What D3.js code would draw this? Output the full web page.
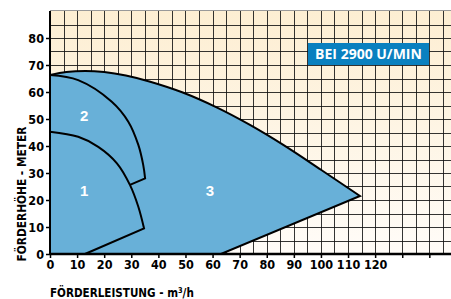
<!DOCTYPE html>
<html>
<head>
<meta charset="utf-8">
<script src="https://cdn.jsdelivr.net/npm/d3@7"></script>
<style>
  body { margin: 0; background: #fff; }
  text { font-family: "Liberation Sans Narrow", "DejaVu Sans Condensed", sans-serif; font-weight: bold; }
</style>
</head>
<body>
<svg width="451" height="299"></svg>
<script>
let width = 451;
let height = 299;

// pump curves (flow m3/h, head m)
let curve3 = [[0, 66.3], [6, 67.4], [13, 67.8], [20, 67.4], [28, 66.1], [37, 63.8], [49, 59.8],
  [61.5, 54.3], [73.8, 47.8], [86.1, 40.4], [100, 31.2], [114.4, 21.5]];
let tail3 = [[114.4, 21.5], [63.1, 0], [0, 0]];
let curve2 = [[0, 66.3], [10.4, 64.4], [22.8, 56.4], [28.9, 49], [32.6, 40.4], [34.4, 33], [35.1, 28]];
let tail2 = [[35.1, 28], [29.5, 25.6]];
let curve1 = [[0, 45.3], [10.4, 43.4], [17.8, 39.7], [24.7, 33.6], [29.5, 25.6], [32.6, 17.5], [34.7, 9.5]];
let tail1 = [[34.7, 9.5], [12.9, 0]];

let xTicks = [0, 10, 20, 30, 40, 50, 60, 70, 80, 90, 100, 110, 120, 130, 140];
let xLabels = ['0', '10', '20', '30', '40', '50', '60', '70', '80', '90', '100', '110', '120', '', ''];
let yTicks = [0, 10, 20, 30, 40, 50, 60, 70, 80];
let zoneLabels = [['1', 12.6, 23.5], ['2', 12.6, 51.3], ['3', 59, 23.5]];

let xScale = d3.scaleLinear().domain([0, 148]).range([50, 451]);
let yScale = d3.scaleLinear().domain([0, 90]).range([254, 11]);

let svg = d3.select('svg');

// cream background
let grad = svg.append('defs').append('linearGradient')
  .attr('id', 'bg').attr('x1', 0).attr('x2', 0).attr('y1', 0).attr('y2', 1);
grad.append('stop').attr('offset', '0%').attr('stop-color', '#fdeed2');
grad.append('stop').attr('offset', '100%').attr('stop-color', '#fffcf8');

svg.append('rect')
  .attr('x', xScale(0)).attr('y', yScale(90))
  .attr('width', xScale(148) - xScale(0)).attr('height', yScale(0) - yScale(90))
  .attr('fill', 'url(#bg)');

// grid every 5 units
let grid = svg.append('g').attr('stroke', '#111').attr('stroke-width', 1).attr('stroke-opacity', 0.85);
grid.selectAll('.gx').data(d3.range(5, 148, 5)).enter().append('line')
  .attr('x1', d => Math.round(xScale(d)) + 0.5).attr('x2', d => Math.round(xScale(d)) + 0.5)
  .attr('y1', yScale(90)).attr('y2', yScale(0));
grid.selectAll('.gy').data(d3.range(5, 90, 5)).enter().append('line')
  .attr('y1', d => Math.round(yScale(d)) + 0.5).attr('y2', d => Math.round(yScale(d)) + 0.5)
  .attr('x1', xScale(0)).attr('x2', xScale(148));

svg.append('line')
  .attr('x1', xScale(0)).attr('x2', xScale(148))
  .attr('y1', yScale(90) - 0.5).attr('y2', yScale(90) - 0.5)
  .attr('stroke', '#999').attr('stroke-width', 1);

// zones
let smooth = d3.line().x(d => xScale(d[0])).y(d => yScale(d[1])).curve(d3.curveCatmullRom);
let straight = d3.line().x(d => xScale(d[0])).y(d => yScale(d[1]));

svg.append('path')
  .attr('d', smooth(curve3) + straight(tail3).replace('M', 'L') + 'Z')
  .attr('fill', '#68b0d8').attr('stroke', '#000').attr('stroke-width', 2).attr('stroke-linejoin', 'miter');
svg.append('path')
  .attr('d', smooth(curve2) + straight(tail2).replace('M', 'L'))
  .attr('fill', 'none').attr('stroke', '#000').attr('stroke-width', 2);
svg.append('path')
  .attr('d', smooth(curve1) + straight(tail1).replace('M', 'L'))
  .attr('fill', 'none').attr('stroke', '#000').attr('stroke-width', 2);

svg.selectAll('.zone').data(zoneLabels).enter().append('text')
  .attr('x', d => xScale(d[1])).attr('y', d => yScale(d[2]))
  .attr('text-anchor', 'middle').attr('dy', '0.36em')
  .attr('fill', '#fff').style('font-family', '"Liberation Sans", sans-serif').style('font-weight', 'bold')
  .style('font-size', '15px')
  .text(d => d[0]);

// axes
let xAxis = d3.axisBottom(xScale).tickValues(xTicks).tickSize(4).tickPadding(2)
  .tickFormat((d, i) => xLabels[i]);
let yAxis = d3.axisLeft(yScale).tickValues(yTicks).tickSize(4).tickPadding(2);

let gx = svg.append('g').attr('transform', `translate(0,${yScale(0)})`).call(xAxis);
let gy = svg.append('g').attr('transform', `translate(${xScale(0)},0)`).call(yAxis);
gx.select('.domain').attr('stroke-width', 2.5).attr('d', `M${xScale(0)},0H451`);
gy.select('.domain').attr('stroke-width', 2).attr('d', `M0,${yScale(90)}V${yScale(0)}`);
[gx, gy].forEach(g => {
  g.selectAll('.tick line').attr('stroke', '#000').attr('stroke-width', 1.5);
  g.selectAll('.tick text').attr('fill', '#000')
    .style('font-family', '"Liberation Sans Narrow", "DejaVu Sans Condensed", sans-serif')
    .style('font-weight', 'bold').style('font-size', '12.5px');
});

// titles, squeezed to the width seen in the picture
let xTitle = svg.append('text')
  .attr('x', 0).attr('y', 0)
  .style('font-size', '12.5px')
  .html('FÖRDERLEISTUNG - m<tspan dy="-4" font-size="8">3</tspan><tspan dy="4">/h</tspan>');
let xw = xTitle.node().getComputedTextLength();
xTitle.attr('transform', `translate(50,296.5) scale(${144 / xw},1)`);

let yTitle = svg.append('text')
  .attr('x', 0).attr('y', 0)
  .style('font-size', '13px')
  .text('FÖRDERHÖHE - METER');
let yw = yTitle.node().getComputedTextLength();
yTitle.attr('transform', `translate(25.5,261.5) rotate(-90) scale(${135 / yw},1)`);

// speed badge
svg.append('rect')
  .attr('x', 308).attr('y', 43).attr('width', 121).attr('height', 22)
  .attr('fill', '#0a80bf');
svg.append('text')
  .attr('x', 368.5).attr('y', 54).attr('dy', '0.36em').attr('text-anchor', 'middle')
  .attr('fill', '#fff')
  .style('font-family', '"Open Sans", sans-serif').style('font-weight', 700).style('font-size', '14px')
  .text('BEI 2900 U/MIN');
</script>
</body>
</html>
